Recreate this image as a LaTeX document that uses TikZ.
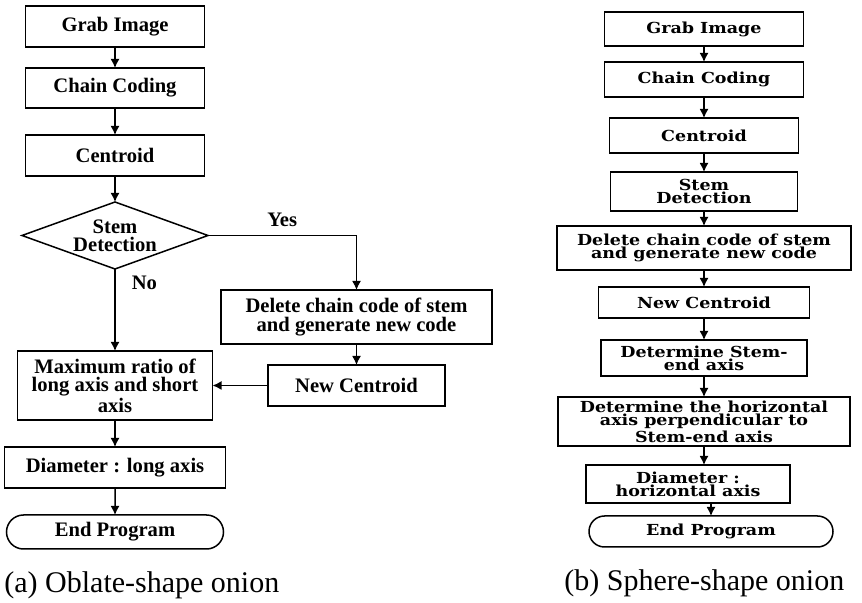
\documentclass[tikz,border=0pt]{standalone}
\usepackage{fontspec}
\setmainfont{Liberation Serif}
\newfontfamily\sphfont[FakeStretch=1.15]{DejaVu Serif}
\usetikzlibrary{positioning,shapes.geometric,shapes.misc,arrows.meta}

\begin{document}
\begin{tikzpicture}
      \tikzstyle{box}=[rectangle, draw=black, line width=0.75pt, outer sep=0pt, align=center, inner sep=1pt, font=\fontsize{10.3}{9.2}\selectfont\bfseries]
      \tikzstyle{decision}=[diamond, draw=black, line width=0.75pt, outer sep=0pt, align=center, inner sep=0pt, aspect=2.78, minimum width=93pt, minimum height=33.5pt, font=\fontsize{10.3}{9}\selectfont\bfseries]
      \tikzstyle{term}=[rounded rectangle, draw=black, line width=0.75pt, outer sep=0pt, inner sep=1pt, font=\fontsize{10.3}{9.2}\selectfont\bfseries]
      \tikzstyle{sbox}=[rectangle, draw=black, line width=0.75pt, outer sep=0pt, align=center, inner sep=1pt, font=\sphfont\fontsize{7.6}{6.6}\selectfont\bfseries]
      \tikzstyle{sterm}=[rounded rectangle, draw=black, line width=0.75pt, outer sep=0pt, inner sep=1pt, font=\sphfont\fontsize{7.6}{6.6}\selectfont\bfseries]
      \tikzstyle{connect}=[-{Latex[length=4.5pt,width=4.5pt]}, line width=0.75pt]
      \tikzstyle{lbl}=[inner sep=1pt, font=\fontsize{10.3}{12}\selectfont\bfseries]
      \tikzstyle{caption}=[anchor=west, inner sep=0pt, font=\fontsize{15}{18}\selectfont]

      \useasboundingbox (0,0) rectangle (431pt,-301.5pt);

      % (a) oblate-shape onion
      \node[box, minimum width=89.5pt, minimum height=20.5pt] (grab) at (57.5pt,-13.25pt) {Grab Image};
      \node[box, minimum width=89.5pt, minimum height=20pt] (chain) [below=10.5pt of grab] {Chain Coding};
      \node[box, minimum width=89.5pt, minimum height=20.5pt] (cent) [below=13.5pt of chain] {Centroid};
      \node[decision] (stem) [below=13pt of cent] {Stem\\Detection};
      \node[box, minimum width=97.5pt, minimum height=34.5pt] (ratio) [below=41pt of stem] {Maximum ratio of\\long axis and short\\axis};
      \node[box, minimum width=110.5pt, minimum height=20.5pt] (diam) [below=13.5pt of ratio] {Diameter : long axis};
      \node[term, minimum width=110.5pt, minimum height=17pt] (endp) [below=13.5pt of diam] {End Program};
      \node[box, minimum width=135.5pt, minimum height=27pt] (del) at (178.25pt,-158.5pt) {Delete chain code of stem\\and generate new code};
      \node[box, minimum width=88.5pt, minimum height=20.5pt] (newc) [below=10.5pt of del] {New Centroid};

      \path (grab) edge [connect] (chain);
      \path (chain) edge [connect] (cent);
      \path (cent) edge [connect] (stem);
      \draw[connect] (stem.east) -| node[lbl, pos=0.25, above=3pt] {Yes} (del);
      \draw[connect] (stem) -- node[lbl, pos=0.17, right, xshift=7pt] {No} (ratio);
      \path (del) edge [connect] (newc);
      \path (newc) edge [connect] (ratio);
      \path (ratio) edge [connect] (diam);
      \path (diam) edge [connect] (endp);

      % (b) sphere-shape onion
      \node[sbox, minimum width=99.5pt, minimum height=17pt] (grab2) at (352pt,-14.5pt) {Grab Image};
      \node[sbox, minimum width=99.5pt, minimum height=17.5pt] (chain2) [below=8pt of grab2] {Chain Coding};
      \node[sbox, minimum width=94.5pt, minimum height=17.5pt] (cent2) [below=10.5pt of chain2] {Centroid};
      \node[sbox, minimum width=93.5pt, minimum height=19.5pt] (stem2) [below=9.5pt of cent2] {Stem\\Detection};
      \node[sbox, minimum width=147pt, minimum height=22pt] (del2) [below=7.5pt of stem2] {Delete chain code of stem\\and generate new code};
      \node[sbox, minimum width=105.5pt, minimum height=15.5pt] (newc2) [below=8.5pt of del2] {New Centroid};
      \node[sbox, minimum width=103pt, minimum height=18pt] (axis2) [below=11pt of newc2] {Determine Stem-\\end axis};
      \node[sbox, minimum width=146pt, minimum height=24.5pt] (horiz2) [below=10.5pt of axis2] {Determine the horizontal\\axis perpendicular to\\Stem-end axis};
      \node[sbox, minimum width=102pt, minimum height=19pt] (diam2) [below=9.5pt of horiz2, xshift=-8pt] {Diameter :\\horizontal axis};
      \node[sterm, minimum width=124pt, minimum height=15.5pt] (endp2) [below=6.5pt of diam2, xshift=11.5pt] {End Program};

      \path (grab2) edge [connect] (chain2);
      \path (chain2) edge [connect] (cent2);
      \path (cent2) edge [connect] (stem2);
      \path (stem2) edge [connect] (del2);
      \path (del2) edge [connect] (newc2);
      \path (newc2) edge [connect] (axis2);
      \path (axis2) edge [connect] (horiz2);
      \path (horiz2.south) edge [connect] (horiz2.south |- diam2.north);
      \path (endp2.north |- diam2.south) edge [connect] (endp2.north);

      \node[caption] (capa) at (2pt,-292.5pt) {(a) Oblate-shape onion};
      \node[caption] (capb) at (282pt,-291.5pt) {(b) Sphere-shape onion};
    \end{tikzpicture}
\end{document}
